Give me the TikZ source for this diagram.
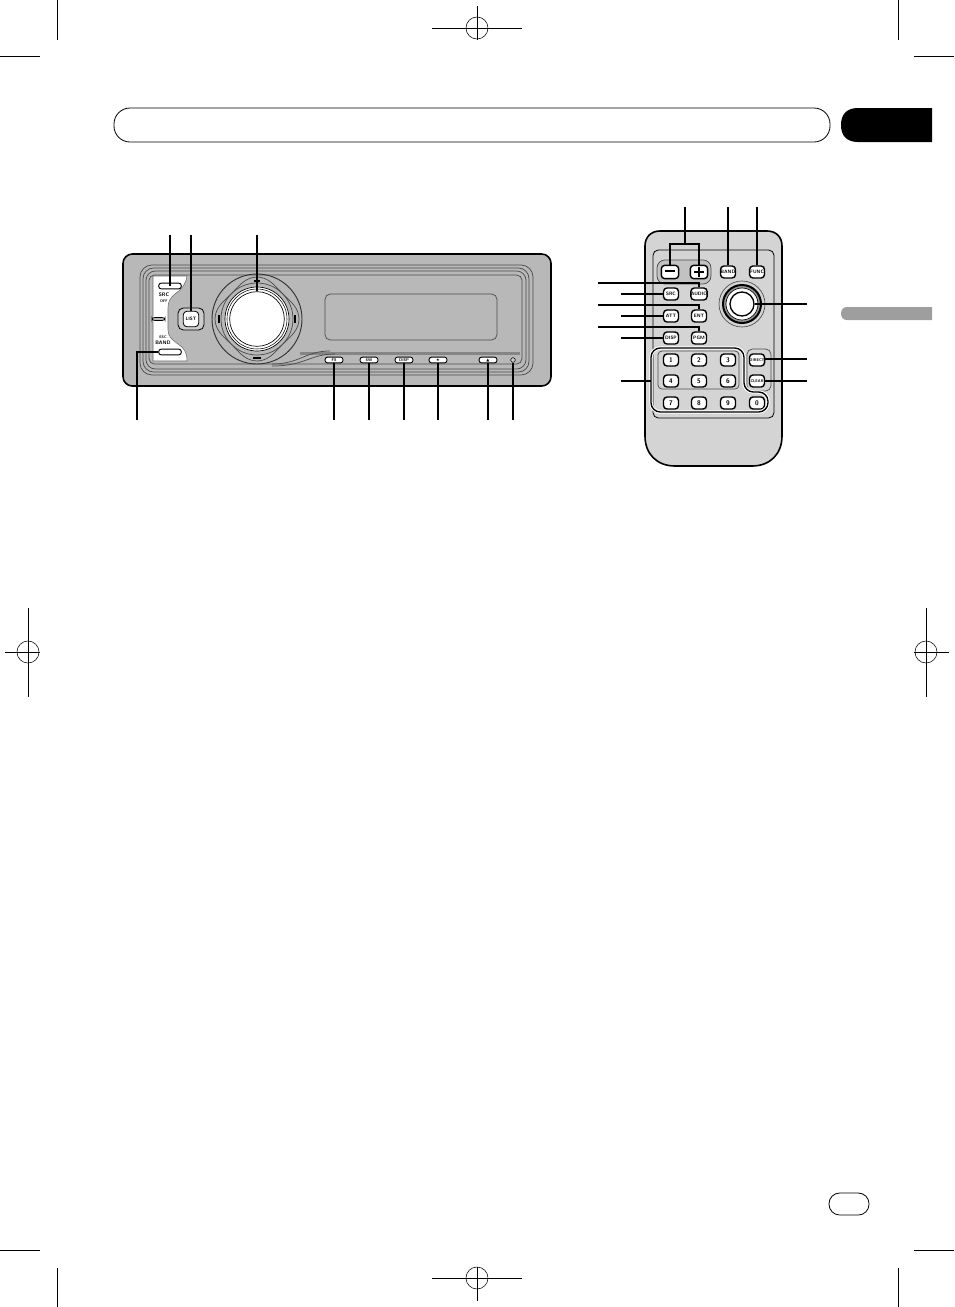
\documentclass[tikz,border=0pt]{standalone}
\usepackage{fontspec}
\newfontfamily\symfont{DejaVu Sans}
\begin{document}
\begin{tikzpicture}[x=.75pt,y=-.75pt,
		crop/.style={line width=.6pt},
		leader/.style={line width=1pt},
		faceline/.style={line width=.55pt,draw=black!70},
		key/.style={draw,line width=1.05pt,fill=white,rounded corners=2.6pt,minimum width=11.2pt,minimum height=9pt,inner sep=0pt,font=\sffamily\bfseries\fontsize{3.6}{4}\selectfont},
		numkey/.style={key,font=\sffamily\bfseries\fontsize{5}{5}\selectfont},
		widekey/.style={key,font=\sffamily\bfseries\fontsize{2.9}{3}\selectfont},
		hubtn/.style={draw,line width=.7pt,fill=white,rounded corners=2pt,minimum width=13.5pt,minimum height=4.4pt,inner sep=0pt,font=\sffamily\bfseries\fontsize{3}{3}\selectfont},
		hutext/.style={inner sep=0pt,font=\sffamily\bfseries\fontsize{3.8}{4}\selectfont}]
		\useasboundingbox (0,0) rectangle (954,1307);
		
		\draw [crop] (57,0) -- (57,40); \draw [crop] (898,0) -- (898,40);
		\draw [crop] (0,56) -- (40,56); \draw [crop] (914,56) -- (954,56);
		\draw [crop] (57,1268) -- (57,1307); \draw [crop] (898,1268) -- (898,1307);
		\draw [crop] (0,1250) -- (40,1250); \draw [crop] (914,1250) -- (954,1250);
		\foreach \cx/\cy/\ax/\bx/\ay/\by in {477/28/432/522/6/40, 477/1278/432/522/1267/1301, 28/652/5/40/608/697, 926/652/914/949/608/697}{
			\draw [crop] (\ax,\cy) -- (\bx,\cy); \draw [crop] (\cx,\ay) -- (\cx,\by);
			\draw [line width=.4pt] (\cx,\cy) circle [radius=11];
		}
		
		\draw [line width=.6pt,rounded corners=12pt] (114,108) rectangle (830,142);
		\fill (932,108) -- (858,108) .. controls (846,108) and (841,115) .. (841,125) .. controls (841,135) and (846,142) .. (858,142) -- (932,142) -- cycle;
		\fill [black!38] (932,307) -- (847,307) .. controls (843,307) and (841,310) .. (841,313.500) .. controls (841,317) and (843,320) .. (847,320) -- (932,320) -- cycle;
		\draw [line width=.6pt,rounded corners=8pt] (829,1193) rectangle (869,1215);
		
		\draw [line width=1.2pt,fill=black!28,rounded corners=7pt] (123,254) rectangle (551,386);
		\draw [faceline,rounded corners=9pt] (140,265) rectangle (533,375);
		\draw [faceline,rounded corners=8pt] (143,268) rectangle (529,372);
		\draw [faceline,rounded corners=7pt] (146,271) rectangle (526,369);
		\draw [faceline,rounded corners=4pt] (149,275) rectangle (522,364);
		\fill [black!48] (300,352) -- (520,352) -- (520,355) -- (300,355) -- cycle;
		\draw [faceline] (272,364) .. controls (300,364) and (305,351) .. (330,351);
		\draw [faceline] (272,366) .. controls (305,366) and (310,354) .. (335,354);
		\draw [faceline,rounded corners=4pt] (325,294) rectangle (497,340);
		\fill [white,draw=black!60,line width=.4pt] (153,276) -- (187,276) .. controls (186,284) and (181,290) .. (175,294) .. controls (170,298) and (168,302) .. (168,308) -- (168,330) .. controls (168,336) and (172,340) .. (178,344) .. controls (184,348) and (187,352) .. (187,361) -- (153,361) -- cycle;
		\draw [line width=.5pt,fill=black!28,rounded corners=2pt] (152,317.500) rectangle (165,320.500);
		
		\node [hubtn,minimum width=17pt] (srcbtn) at (170,286) {};
		\node [hubtn,minimum width=17pt] (bandbtn) at (170,352) {};
		\node [hutext] (srclabel) at (164,295) {SRC};
		\node [hutext,font=\sffamily\bfseries\fontsize{2.8}{3}\selectfont] (offlabel) at (164,301) {OFF};
		\node [hutext,font=\sffamily\bfseries\fontsize{2.8}{3}\selectfont] (esclabel) at (163,337) {ESC};
		\node [hutext] (bandlabel) at (163,343) {BAND};
		\draw [line width=.6pt,fill=black!20,rounded corners=4pt] (178,308) rectangle (204,330);
		\node [key,minimum width=11.5pt,minimum height=11.5pt,line width=.6pt] (listbtn) at (191,319) {LIST};
		
		\draw [line width=.7pt,draw=black!80] (257,319) circle [radius=45];
		\draw [faceline] plot [domain=0:360,samples=73,smooth] ({257+(39+3*cos(4*\x))*cos(\x)},{319+(39+3*cos(4*\x))*sin(\x)});
		\draw [faceline] (257,319) circle [radius=36];
		\draw [line width=.5pt,fill=white] (257,319) circle [radius=32];
		\draw [line width=.4pt] (257,319) circle [radius=30];
		\node [draw,line width=.5pt,fill=white,circle,minimum size=41pt,inner sep=0pt] (knob) at (257,319) {};
		\fill (218,315) rectangle (220,323); \fill (294,315) rectangle (296,323);
		\fill (253,357) rectangle (261,359); \fill (254,280) rectangle (260,282);
		
		\node [hubtn] (fsbtn) at (334,360) {FS};
		\node [hubtn] (swbtn) at (369,360) {SW};
		\node [hubtn] (dispbtn) at (404,360) {DISP};
		\node [hubtn] (starbtn) at (438,360) {\symfont ★};
		\node [hubtn] (ejectbtn) at (488,360) {\symfont ▲};
		\node [draw,line width=.4pt,circle,fill=black!20,minimum size=3.5pt,inner sep=0pt] (aux) at (513,360) {};
		
		\foreach \name/\xpos in {a/170,b/191,c/257}{\coordinate (top\name) at (\xpos,235);}
		\foreach \name/\xpos in {d/137,e/334,f/369,g/404,h/438,i/488,j/513}{\coordinate (bot\name) at (\xpos,420);}
		\draw [leader] (topa) -- (srcbtn.center);
		\draw [leader] (topb) -- (listbtn);
		\draw [leader] (topc) -- (knob);
		\draw [leader] (botd) |- (bandbtn);
		\draw [leader] (bote) -- (fsbtn);
		\draw [leader] (botf) -- (swbtn);
		\draw [leader] (botg) -- (dispbtn);
		\draw [leader] (both) -- (starbtn);
		\draw [leader] (boti) -- (ejectbtn);
		\draw [leader] (botj) -- (aux);
		
		\draw [line width=1.2pt,fill=black!17] (660,231) -- (767,231) .. controls (776,231) and (782,237) .. (782,246) -- (782,436) .. controls (782,454) and (770,466) .. (752,466) -- (675,466) .. controls (657,466) and (645,454) .. (645,436) -- (645,246) .. controls (645,237) and (651,231) .. (660,231) -- cycle;
		\draw [line width=.6pt,rounded corners=4pt] (653,250) rectangle (774,418);
		\draw [faceline,fill=black!24,rounded corners=6pt] (657,260) rectangle (711,284);
		\draw [faceline,rounded corners=4pt] (747,349) rectangle (771,391);
		
		\node [key,minimum width=13pt,minimum height=10pt] (minus) at (670,272) {\rule[1pt]{7.5pt}{1.4pt}};
		\node [key,minimum width=13pt,minimum height=10pt] (plus) at (699,272) {\rule[1pt]{7.5pt}{1.4pt}\llap{\rule[-2.05pt]{1.4pt}{7.5pt}\hspace{3.05pt}}};
		\node [key] (band) at (728,272) {BAND};
		\node [key] (func) at (757,272) {FUNC};
		\node [key] (src) at (671,294) {SRC};
		\node [key] (audio) at (699,294) {AUDIO};
		\node [key] (att) at (671,316) {ATT};
		\node [key] (ent) at (699,316) {ENT};
		\node [key] (disp) at (671,338) {DISP};
		\node [key] (pgm) at (699,338) {PGM};
		\node [widekey] (direct) at (757,360) {DIRECT};
		\node [widekey] (clear) at (757,381) {CLEAR};
		\foreach \num/\xpos/\ypos in {1/671/360,2/699/360,3/728/360,4/671/381,5/699/381,6/728/381,7/671/403,8/699/403,9/728/403,0/757/403}{
			\node [numkey] (num\num) at (\xpos,\ypos) {\num};
		}
		\draw [faceline,rounded corners=3pt] (658,351) rectangle (739,389);
		\draw [white,line width=2.6pt,rounded corners=7pt] (651,348) -- (744,348) -- (744,392) -- (768,392) -- (768,412) -- (651,412) -- cycle;
		\draw [line width=1pt,rounded corners=7pt] (651,348) -- (744,348) -- (744,392) -- (768,392) -- (768,412) -- (651,412) -- cycle;
		
		\draw [line width=.5pt,draw=black!70] (742,304) circle [radius=23];
		\draw [line width=1.5pt,fill=black!40] (742,304) circle [radius=19];
		\draw [line width=.5pt,fill=white] (742,304) circle [radius=16];
		\node [draw,line width=1pt,fill=white,circle,minimum size=18pt,inner sep=0pt] (stick) at (742,304) {};
		
		\coordinate (volbar) at (685,244);
		\coordinate (voltop) at (685,207);
		\coordinate (bandtop) at (728,207);
		\coordinate (functop) at (757,207);
		\coordinate (audioend) at (598,283);
		\coordinate (srcend) at (621,294);
		\coordinate (entend) at (598,305);
		\coordinate (attend) at (621,316);
		\coordinate (pgmend) at (598,327);
		\coordinate (dispend) at (621,338);
		\coordinate (numend) at (621,381);
		\coordinate (stickend) at (807,304);
		\coordinate (directend) at (807,359);
		\coordinate (clearend) at (807,381);
		\draw [leader] (voltop) -- (volbar);
		\draw [leader] (minus.north) |- (volbar) -| (plus.north);
		\draw [leader] (bandtop) -- (band);
		\draw [leader] (functop) -- (func);
		\draw [leader] (audioend) -| (audio);
		\draw [leader] (srcend) -- (src);
		\draw [leader] (entend) -| (ent);
		\draw [leader] (attend) -- (att);
		\draw [leader] (pgmend) -| (pgm);
		\draw [leader] (dispend) -- (disp);
		\draw [leader] (numend) -- (651,381);
		\draw [leader] (stickend) -- (stick);
		\draw [leader] (directend) -- (direct.east |- directend);
		\draw [leader] (clearend) -- (clear);
		\end{tikzpicture}
\end{document}
